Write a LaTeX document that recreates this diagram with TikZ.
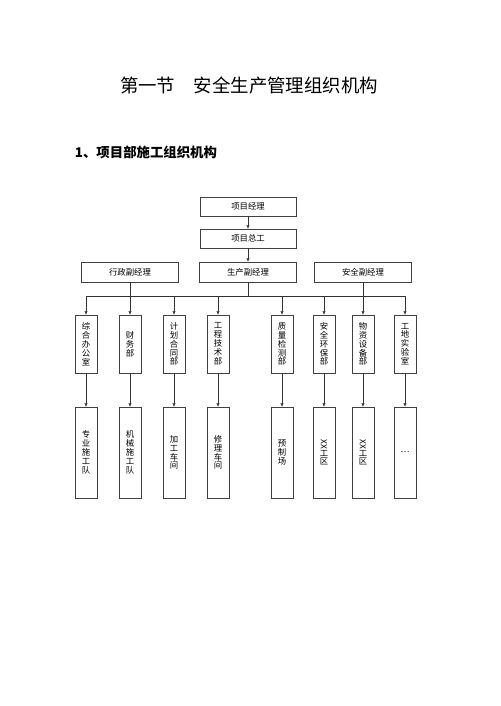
\documentclass[tikz,border=0pt]{standalone}
\usepackage{fontspec}
\setmainfont{Noto Sans CJK SC}
\usetikzlibrary{calc}
\usetikzlibrary{arrows.meta}
\usetikzlibrary{shadows}
\tikzset{>={Latex[length=4pt,width=3.8pt]}}
\colorlet{boxline}{black!75}
\colorlet{boxshade}{black!30}
\tikzset{
  hbox/.style={draw=boxline, fill=white, line width=0.5pt, inner sep=0pt,
    minimum width=4.03cm, minimum height=0.8cm, font=\fontsize{10}{11}\selectfont,
    general shadow={fill=boxshade, shadow xshift=0.6pt, shadow yshift=-0.6pt}},
  mgrbox/.style={hbox, minimum width=4.07cm, minimum height=0.84cm},
  vbox/.style={hbox, minimum width=0.92cm, minimum height=2.44cm, align=center,
    font=\fontsize{10}{10.6}\selectfont},
  tallbox/.style={vbox, minimum height=3.82cm},
  link/.style={->, black!80, line width=0.5pt}
}

\begin{document}
\begin{tikzpicture}[x=0.042cm, y=0.042cm]
  \useasboundingbox (0,0) rectangle (500,-706);

  % TITLES
  \node (title) at (249,-85) {\fontsize{22}{26}\selectfont 第一节　安全生产管理组织机构};
  \node[anchor=west, font=\fontsize{16}{19}\selectfont\bfseries] (sub) at (72,-152)
    {1、项目部施工组织机构};

  % MANAGERS
  \node[hbox] (pm) at (248,-206.5) {项目经理};
  \node[hbox] (chief) at (248,-238.5) {项目总工};
  \node[mgrbox] (adm) at (130,-272) {行政副经理};
  \node[mgrbox] (prod) at (248,-272) {生产副经理};
  \node[mgrbox] (safe) at (363,-272) {安全副经理};
  \coordinate (bus) at (0,-296);

  \draw[link] (pm) -- (chief);
  \draw[link] (chief) -- (prod);

  % DEPARTMENTS AND TEAMS
  \foreach [count=\i] \x/\dept/\team in {
      86/{综\\合\\办\\公\\室}/{专\\业\\施\\工\\队},
      130/{财\\务\\部}/{机\\械\\施\\工\\队},
      174/{计\\划\\合\\同\\部}/{加\\工\\车\\间},
      218/{工\\程\\技\\术\\部}/{修\\理\\车\\间},
      282/{质\\量\\检\\测\\部}/{预\\制\\场},
      324/{安\\全\\环\\保\\部}/{\rotatebox{-90}{XX}\\工\\区},
      363/{物\\资\\设\\备\\部}/{\rotatebox{-90}{XX}\\工\\区},
      405/{工\\地\\实\\验\\室}/{…}} {
    \node[vbox] (d\i) at (\x,-344) {\dept};
    \node[tallbox] (t\i) at (\x,-452.5) {\team};
    \draw[link] (d\i) -- (t\i);
  }

  % BUS
  \draw[black!80, line width=0.5pt] (prod.south) -- (prod.south |- bus);
  \draw[black!80, line width=0.5pt] (d1.north |- bus) -- (d8.north |- bus);
  \foreach \i in {1,3,4,5,6,8}
    \draw[link] (d\i.north |- bus) -- (d\i.north);
  \draw[link] (adm) -- (d2);
  \draw[link] (safe) -- (d7);
\end{tikzpicture}
\end{document}
